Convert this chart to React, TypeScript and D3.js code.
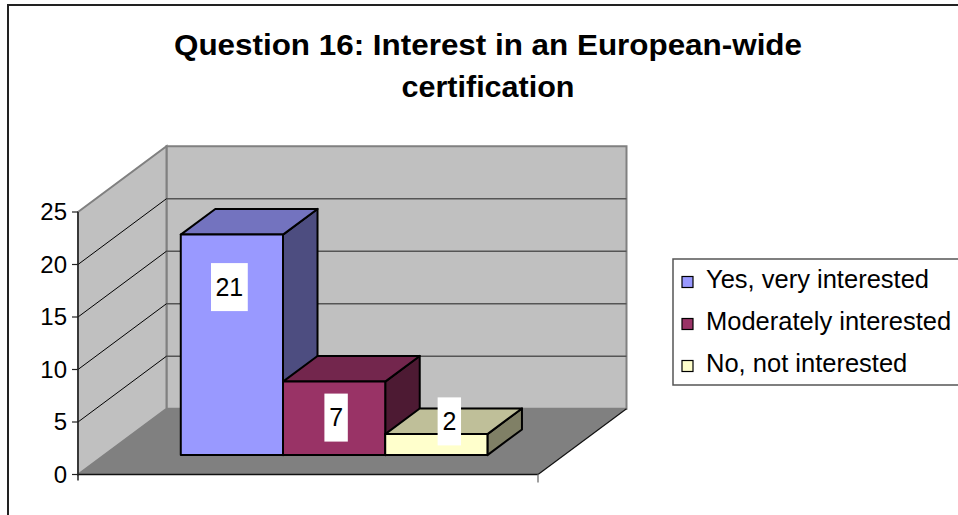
import React from "react";
import * as d3 from "d3";

const TITLE_LINES = ["Question 16: Interest in an European-wide", "certification"];
const SERIES = ["Yes, very interested", "Moderately interested", "No, not interested"];
const VALUES = [21, 7, 2];
const Y_TICKS = [0, 5, 10, 15, 20, 25];

const FRONT_COLORS = ["#9999FF", "#993366", "#FFFFCC"];
const TOP_COLORS = ["#7373BF", "#73264D", "#BFBF99"];
const SIDE_COLORS = ["#4D4D80", "#4D1A33", "#808066"];
// layout offsets of the value labels (relative to the front-top centre of each bar)
const LABEL_DX = [-2.5, 2, 13];
const LABEL_DY = [52.5, 36, -12.7];
// rendered widths of the two title lines
const TITLE_WIDTHS = [628, 173];

const W = 958;
const H = 515;
const X0 = 78;
const X1 = 538;
const DX = 88.5;
const DY = -65.8;
const TF = 0.295;
const TB = 0.685;
const FONT = "Liberation Sans, Arial, sans-serif";

export default function App() {
  const y = d3.scaleLinear().domain([0, 25]).range([474.5, 212]);
  const xb = d3.scaleBand<string>().domain(SERIES).range([X0, X1]).paddingInner(0).paddingOuter(0.75);
  const P = (x: number, yy: number, t: number): [number, number] => [x + DX * t, yy + DY * t];
  const poly = (pts: [number, number][]) => "M" + pts.map((p) => p[0].toFixed(2) + "," + p[1].toFixed(2)).join("L") + "Z";

  const y0 = y(0);
  const yTop = y(25);

  const backWall = poly([P(X0, yTop, 1), P(X1, yTop, 1), P(X1, y0, 1), P(X0, y0, 1)]);
  const sideWall = poly([P(X0, yTop, 0), P(X0, yTop, 1), P(X0, y0, 1), P(X0, y0, 0)]);
  const floor = poly([P(X0, y0, 0), P(X1, y0, 0), P(X1, y0, 1), P(X0, y0, 1)]);

  return (
    <svg width={W} height={H} style={{ position: "absolute", left: 0, top: 0, background: "#fff" }} fontFamily={FONT}>
      {/* outer border */}
      <path d={`M8,${H + 2}L8,5L${W + 2},5`} fill="none" stroke="#222" strokeWidth={2} />
      {/* title */}
      {TITLE_LINES.map((t, i) => (
        <text
          key={i}
          x={488}
          y={54.5 + i * 42}
          textAnchor="middle"
          fontSize={30}
          fontWeight="bold"
          fill="#000"
          textLength={TITLE_WIDTHS[i]}
          lengthAdjust="spacingAndGlyphs"
        >
          {t}
        </text>
      ))}
      {/* walls */}
      <path d={backWall} fill="#C0C0C0" stroke="#808080" strokeWidth={2} />
      <path d={sideWall} fill="#C0C0C0" stroke="#808080" strokeWidth={2} />
      {/* back wall gridlines */}
      {Y_TICKS.filter((v) => v > 0 && v < 25).map((v) => {
        const a = P(X0, y(v), 1);
        const b = P(X1, y(v), 1);
        return <line key={"bg" + v} x1={a[0]} y1={a[1]} x2={b[0]} y2={b[1]} stroke="#555" strokeWidth={1.5} />;
      })}
      {/* side wall gridlines */}
      {Y_TICKS.filter((v) => v > 0 && v < 25).map((v) => {
        const a = P(X0, y(v), 0);
        const b = P(X0, y(v), 1);
        return <line key={"sg" + v} x1={a[0]} y1={a[1]} x2={b[0]} y2={b[1]} stroke="#000" strokeWidth={1} />;
      })}
      {/* floor */}
      <path d={floor} fill="#808080" stroke="none" />
      <line x1={P(X1, y0, 0)[0]} y1={y0} x2={P(X1, y0, 1)[0]} y2={P(X1, y0, 1)[1]} stroke="#111" strokeWidth={1.2} />
      <line x1={X0} y1={y0} x2={X1} y2={y0} stroke="#111" strokeWidth={1.5} />
      <line x1={X1} y1={y0} x2={X1} y2={y0 + 8} stroke="#808080" strokeWidth={1.5} />
      {/* value axis */}
      <line x1={X0} y1={yTop} x2={X0} y2={y0 + 6} stroke="#222" strokeWidth={1.5} />
      {Y_TICKS.map((v) => (
        <g key={"t" + v}>
          <line x1={X0 - 6} y1={y(v)} x2={X0} y2={y(v)} stroke="#222" strokeWidth={1.2} />
          <text x={67} y={y(v)} dy="0.35em" textAnchor="end" fontSize={24} fill="#000">
            {v}
          </text>
        </g>
      ))}
      {/* bars */}
      {SERIES.map((s, i) => {
        const xa = xb(s) as number;
        const xc = xa + xb.bandwidth();
        const yv = y(VALUES[i]);
        const front = poly([P(xa, yv, TF), P(xc, yv, TF), P(xc, y0, TF), P(xa, y0, TF)]);
        const top = poly([P(xa, yv, TF), P(xc, yv, TF), P(xc, yv, TB), P(xa, yv, TB)]);
        const side = poly([P(xc, yv, TF), P(xc, yv, TB), P(xc, y0, TB), P(xc, y0, TF)]);
        return (
          <g key={s} stroke="#000" strokeWidth={2} strokeLinejoin="round">
            <path d={side} fill={SIDE_COLORS[i]} />
            <path d={top} fill={TOP_COLORS[i]} />
            <path d={front} fill={FRONT_COLORS[i]} />
          </g>
        );
      })}
      {/* value labels */}
      {SERIES.map((s, i) => {
        const xa = xb(s) as number;
        const c = P(xa + xb.bandwidth() / 2, y(VALUES[i]), TF);
        const cx = c[0] + LABEL_DX[i];
        const cy = c[1] + LABEL_DY[i];
        const label = String(VALUES[i]);
        const w = label.length * 13.4 + 10;
        return (
          <g key={"l" + s}>
            <rect x={cx - w / 2} y={cy - 24} width={w} height={48} fill="#fff" />
            <text x={cx} y={cy} dy="0.35em" textAnchor="middle" fontSize={25} fill="#000">
              {label}
            </text>
          </g>
        );
      })}
      {/* legend */}
      <rect x={673} y={259} width={300} height={126} fill="#fff" stroke="#555" strokeWidth={1.5} />
      {SERIES.map((s, i) => {
        const base = 287.5 + i * 42;
        return (
          <g key={"lg" + s}>
            <rect x={682} y={base - 11} width={11} height={11} fill={FRONT_COLORS[i]} stroke="#000" strokeWidth={1.2} />
            <text x={706} y={base} fontSize={25.5} fill="#000">
              {s}
            </text>
          </g>
        );
      })}
    </svg>
  );
}
